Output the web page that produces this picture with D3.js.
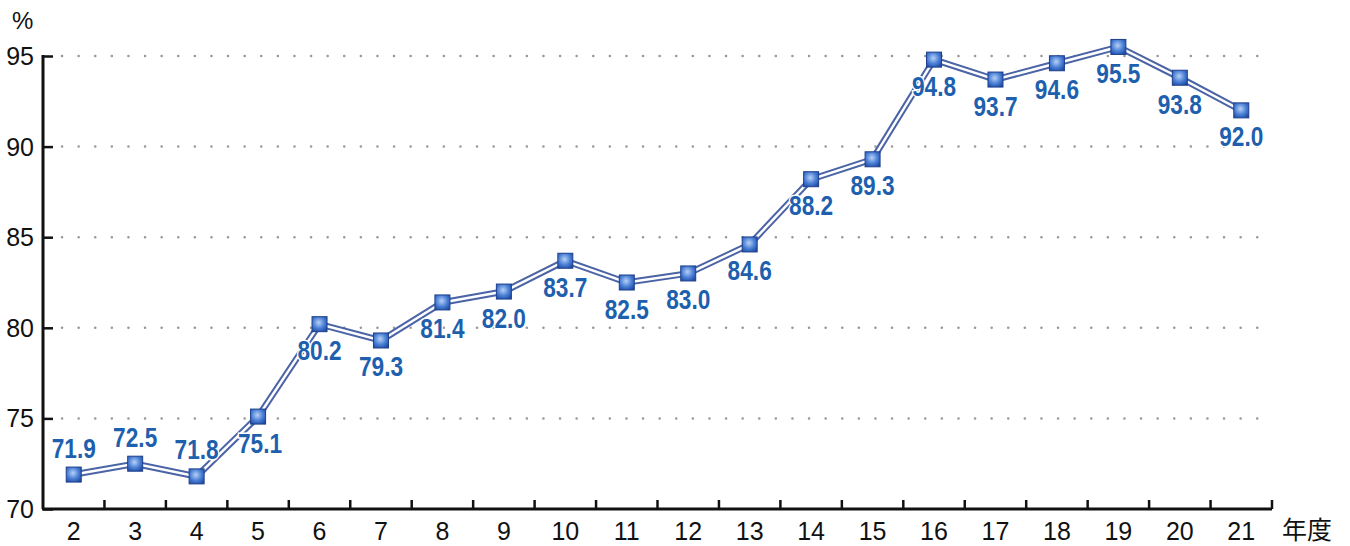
<!DOCTYPE html>
<html><head><meta charset="utf-8">
<script src="https://cdn.jsdelivr.net/npm/d3@7"></script>
<style>body{margin:0;background:#fff}svg{display:block}</style>
</head><body><svg id="c" width="1350" height="546"></svg>
<script>
const categories = ["2","3","4","5","6","7","8","9","10","11","12","13","14","15","16","17","18","19","20","21"];
const values = [71.9,72.5,71.8,75.1,80.2,79.3,81.4,82.0,83.7,82.5,83.0,84.6,88.2,89.3,94.8,93.7,94.6,95.5,93.8,92.0];
const labelPos = ["above","above","above","below","below","below","below","below","below","below","below","below","below","below","below","below","below","below","below","below"];
const yTicks = [70,75,80,85,90,95];
const yUnit = "%";
const xUnit = "年度";

const svg = d3.select("#c");
const x = d3.scaleBand().domain(categories).range([43,1272]);
const y = d3.scaleLinear().domain([70,95]).range([509,56]);
const FONT = "Liberation Sans, Arial, sans-serif";

const defs = svg.append("defs");
const g = defs.append("radialGradient").attr("id","mk").attr("cx","45%").attr("cy","40%").attr("r","70%");
g.append("stop").attr("offset","0%").attr("stop-color","#b8d0f5");
g.append("stop").attr("offset","55%").attr("stop-color","#4a7fd6");
g.append("stop").attr("offset","100%").attr("stop-color","#1c4aa0");

// grid
svg.append("g").selectAll("line").data(yTicks.filter(d=>d>70)).join("line")
  .attr("x1",62).attr("x2",1262).attr("y1",d=>y(d)).attr("y2",d=>y(d))
  .attr("stroke","#999").attr("stroke-width",2.5).attr("stroke-linecap","round")
  .attr("stroke-dasharray","0.1 16.5");

// y axis
const ya = svg.append("g").attr("transform","translate(43,0)")
  .call(d3.axisRight(y).tickValues(yTicks).tickSize(10).tickFormat(""));
ya.select(".domain").remove();
ya.selectAll("line").attr("stroke","#111").attr("stroke-width",2.5);
svg.append("line").attr("x1",43).attr("x2",43).attr("y1",y(95)-1).attr("y2",509).attr("stroke","#111").attr("stroke-width",3);
svg.append("g").selectAll("text").data(yTicks).join("text")
  .attr("x",34).attr("y",d=>y(d)+9).attr("text-anchor","end")
  .attr("font-family",FONT).attr("font-size",25).attr("fill","#111").text(d=>d);
svg.append("text").attr("x",12).attr("y",29).attr("font-family",FONT)
  .attr("font-size",24).attr("fill","#111").text(yUnit);

// x axis
svg.append("line").attr("x1",42).attr("x2",1272).attr("y1",509).attr("y2",509).attr("stroke","#111").attr("stroke-width",3);
const bounds = categories.slice(1).map(c=>x(c)).concat([1272]);
svg.append("g").selectAll("line").data(bounds).join("line")
  .attr("x1",d=>d).attr("x2",d=>d).attr("y1",509).attr("y2",500).attr("stroke","#111").attr("stroke-width",2.5);
svg.append("g").selectAll("text").data(categories).join("text")
  .attr("x",d=>x(d)+x.bandwidth()/2).attr("y",540).attr("text-anchor","middle")
  .attr("font-family",FONT).attr("font-size",25).attr("fill","#111").text(d=>d);
svg.append("text").attr("x",1282).attr("y",539).attr("font-family","Noto Sans CJK JP, sans-serif")
  .attr("font-size",25).attr("fill","#111").text(xUnit);

// line
const pts = categories.map((c,i)=>[x(c)+x.bandwidth()/2, y(values[i])]);
const line = d3.line();
svg.append("path").attr("d",line(pts)).attr("fill","none").attr("stroke","#4b64a6").attr("stroke-width",6.5).attr("stroke-linejoin","miter");
svg.append("path").attr("d",line(pts)).attr("fill","none").attr("stroke","#ffffff").attr("stroke-width",2.5).attr("stroke-linejoin","miter");

// markers
const s = 15;
svg.append("g").selectAll("rect").data(pts).join("rect")
  .attr("x",d=>d[0]-s/2).attr("y",d=>d[1]-s/2).attr("width",s).attr("height",s)
  .attr("fill","url(#mk)").attr("stroke","#1d3f8c").attr("stroke-width",1);

// labels
svg.append("g").selectAll("text").data(pts).join("text")
  .attr("transform",(d,i)=>`translate(${d[0]+(i===3?2:0)},${labelPos[i]==="above"? d[1]-17 : d[1]+36}) scale(0.84,1)`)
  .attr("text-anchor","middle").attr("font-family",FONT)
  .attr("font-size",27).attr("font-weight","bold").attr("fill","#1e5fae")
  .attr("stroke","#fff").attr("stroke-width",3).attr("paint-order","stroke")
  .text((d,i)=>values[i].toFixed(1));
</script></body></html>
